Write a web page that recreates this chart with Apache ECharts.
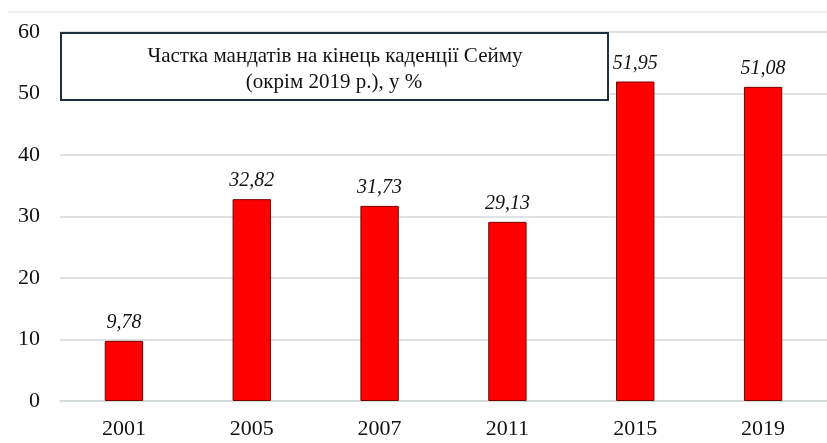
<!DOCTYPE html>
<html>
<head>
<meta charset="utf-8">
<script src="https://cdn.jsdelivr.net/npm/echarts@6/dist/echarts.min.js"></script>
<style>
  html, body { margin: 0; padding: 0; background: #fff; }
  #chart { width: 827px; height: 443px; }
</style>
</head>
<body>
<div id="chart"></div>
<script>
// роки скликань і частка мандатів
var years = ['2001', '2005', '2007', '2011', '2015', '2019'];
var shares = [9.78, 32.82, 31.73, 29.13, 51.95, 51.08];
var yTicks = [0, 10, 20, 30, 40, 50, 60];

var chart = echarts.init(document.getElementById('chart'));
var serif = '"Liberation Serif", "DejaVu Serif", serif';

chart.setOption({
    animation: false,
    grid: { left: 60, right: 0, top: 32, bottom: 42 },
    xAxis: {
        type: 'category',
        data: years,
        axisTick: { show: false },
        axisLine: { lineStyle: { color: '#d3d9dc', width: 1.5 } },
        axisLabel: { color: '#111', fontFamily: serif, fontSize: 22, margin: 17 }
    },
    yAxis: {
        type: 'value',
        min: yTicks[0],
        max: yTicks[yTicks.length - 1],
        interval: 10,
        axisLine: { show: false },
        axisTick: { show: false },
        splitLine: { lineStyle: { color: '#d3d9dc', width: 1.5 } },
        axisLabel: { color: '#111', fontFamily: serif, fontSize: 22, margin: 20 }
    },
    series: [{
        type: 'bar',
        data: shares,
        barWidth: '30%',
        itemStyle: { color: '#ff0000', borderColor: '#7a0000', borderWidth: 1 },
        label: {
            show: true,
            position: 'top',
            distance: 8,
            color: '#111',
            fontFamily: serif,
            fontStyle: 'italic',
            fontSize: 20,
            formatter: function (p) { return p.value.toFixed(2).replace('.', ','); }
        }
    }],
    graphic: [
        {
            type: 'line',
            shape: { x1: 8, y1: 12, x2: 827, y2: 12 },
            style: { stroke: '#e3e3e3', lineWidth: 1 }
        },
        {
            type: 'rect',
            z: 100,
            shape: { x: 61, y: 33, width: 547, height: 67 },
            style: { fill: '#fff', stroke: '#1f2f3f', lineWidth: 2 }
        },
        {
            type: 'text',
            z: 101,
            x: 335,
            y: 56,
            style: {
                text: 'Частка мандатів на кінець каденції Сейму',
                font: '21px ' + serif,
                fill: '#111',
                align: 'center',
                verticalAlign: 'middle'
            }
        },
        {
            type: 'text',
            z: 101,
            x: 334,
            y: 82,
            style: {
                text: '(окрім 2019 р.), у %',
                font: '21px ' + serif,
                fill: '#111',
                align: 'center',
                verticalAlign: 'middle'
            }
        }
    ]
});
</script>
</body>
</html>
